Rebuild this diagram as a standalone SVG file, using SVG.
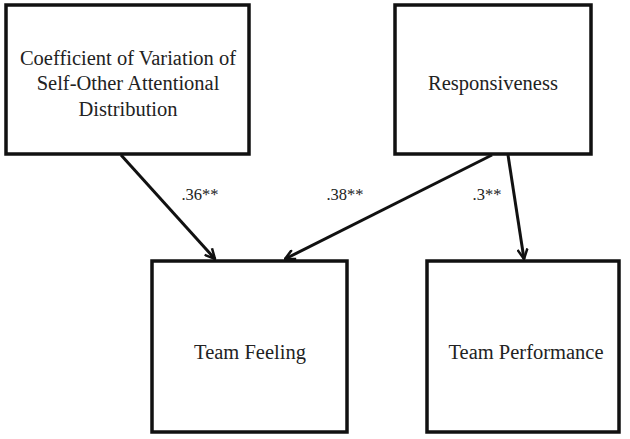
<svg xmlns="http://www.w3.org/2000/svg" width="630" height="439" viewBox="0 0 630 439">
<style>
.box{fill:#fff;stroke:#111;stroke-width:3.5}
.t{font-family:"Liberation Serif",serif;font-size:20.5px;fill:#222;text-anchor:middle}
.l{font-family:"Liberation Serif",serif;font-size:16.5px;fill:#222;text-anchor:middle}
.c{stroke:#111;stroke-width:3;fill:none}
</style>
<defs>
<marker id="ah" viewBox="0 0 12 12" refX="11" refY="6" markerWidth="12" markerHeight="12" markerUnits="userSpaceOnUse" orient="auto">
<path d="M1,1 L11,6 L1,11" fill="none" stroke="#111" stroke-width="2.5"/>
</marker>
</defs>
<rect width="630" height="439" fill="#fff"/>
<g id="cv">
<rect class="box" x="6" y="5" width="243" height="149"/>
<text class="t" x="128" y="65">Coefficient of Variation of</text>
<text class="t" x="128" y="90">Self-Other Attentional</text>
<text class="t" x="128" y="116">Distribution</text>
</g>
<g id="resp">
<rect class="box" x="395" y="5" width="196" height="149"/>
<text class="t" x="493" y="90">Responsiveness</text>
</g>
<g id="tf">
<rect class="box" x="152" y="261" width="195" height="171"/>
<text class="t" x="250" y="359">Team Feeling</text>
</g>
<g id="tp">
<rect class="box" x="427" y="261" width="192" height="171"/>
<text class="t" x="526" y="359">Team Performance</text>
</g>
<g id="connectors">
<line class="c" x1="121" y1="155" x2="215" y2="259" marker-end="url(#ah)"/>
<line class="c" x1="492" y1="155" x2="285" y2="259" marker-end="url(#ah)"/>
<line class="c" x1="508" y1="155" x2="524" y2="259" marker-end="url(#ah)"/>
<text class="l" x="200" y="200">.36**</text>
<text class="l" x="345" y="200">.38**</text>
<text class="l" x="487" y="200">.3**</text>
</g>
</svg>
